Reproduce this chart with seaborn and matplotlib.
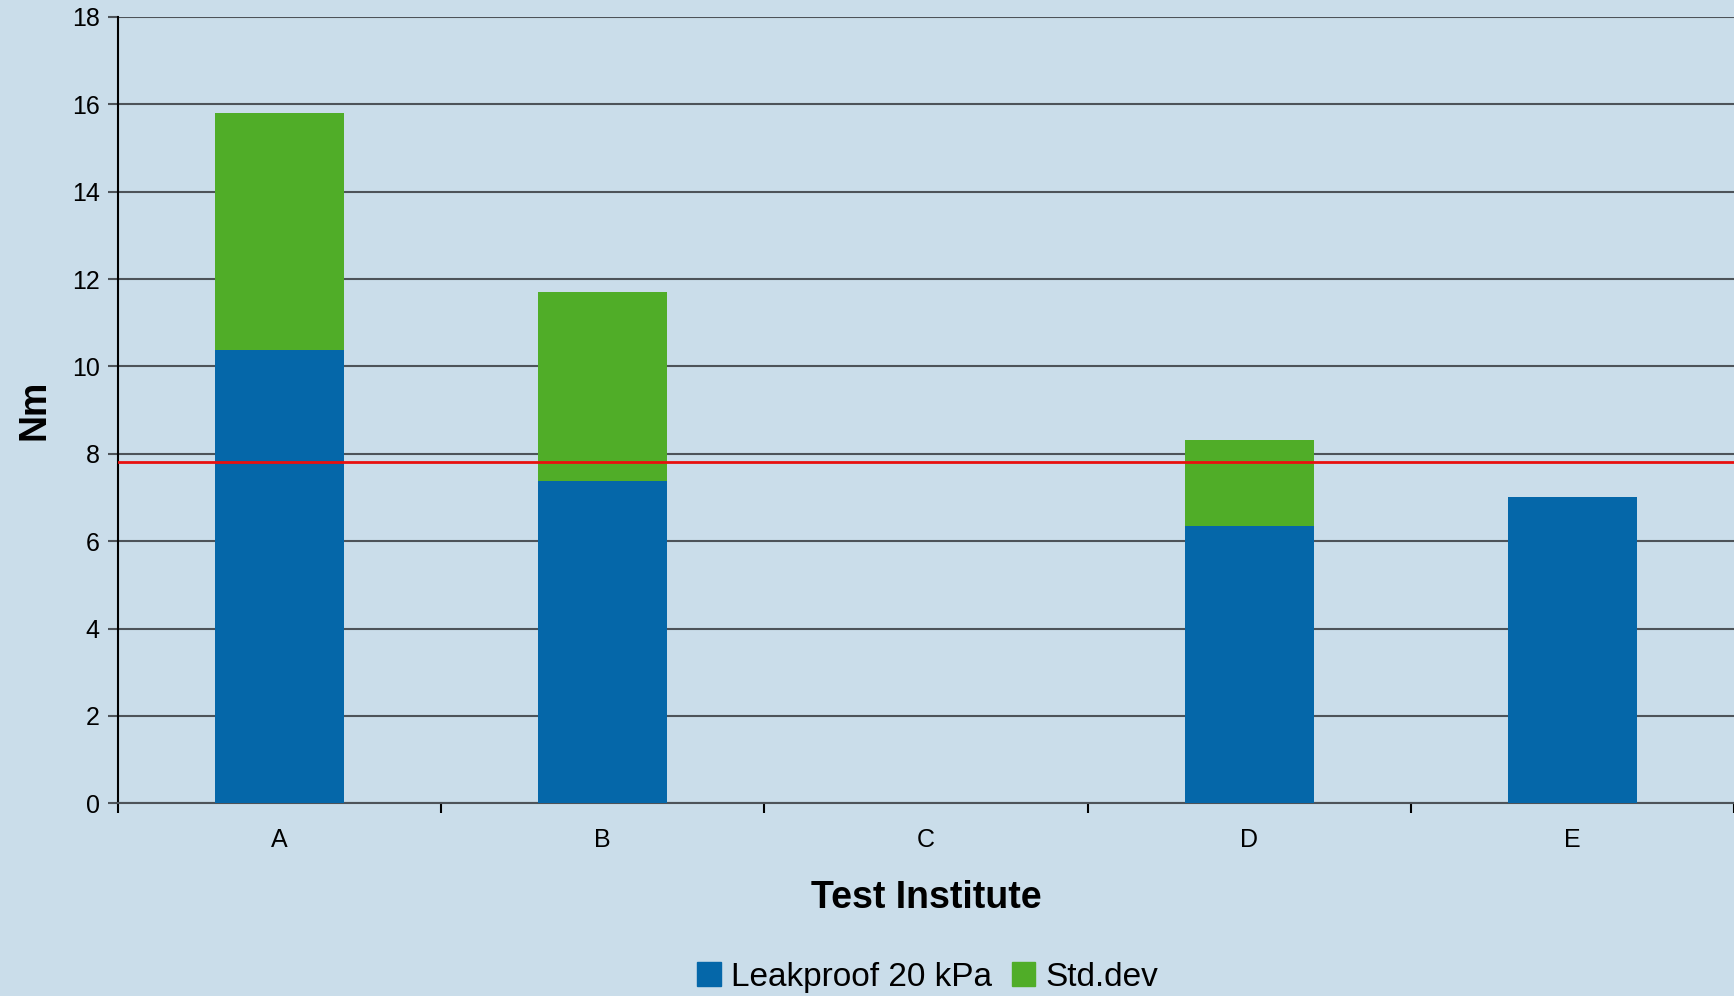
import pandas as pd
import numpy as np
import matplotlib
matplotlib.use("Agg")
import matplotlib.pyplot as plt
import seaborn as sns
from matplotlib.patches import Patch
from matplotlib.ticker import FixedLocator

# --- datos ---
institutos = ["A", "B", "C", "D", "E"]
leakproof = [10.37, 7.38, 0.0, 6.35, 7.01]
std_dev = [5.42, 4.33, 0.0, 1.96, 0.0]
limite = 7.82

AZUL = "#0567A9"
VERDE = "#50AD28"
FONDO = "#CADDEA"

df = pd.DataFrame({"inst": institutos, "leak": leakproof, "std": std_dev})
df["total"] = df["leak"] + df["std"]

sns.set_theme(style="white")
plt.rcParams["font.family"] = ["Liberation Sans", "DejaVu Sans"]
plt.rcParams["text.color"] = "black"
plt.rcParams["axes.labelcolor"] = "black"
plt.rcParams["xtick.color"] = "black"
plt.rcParams["ytick.color"] = "black"

fig = plt.figure(figsize=(17.34, 9.96), dpi=100, facecolor=FONDO)
ax = fig.add_axes([0.068, 0.1935, 0.932, 0.7895])
ax.set_facecolor(FONDO)

# barras apiladas: total (verde) detrás, leakproof (azul) delante
sns.barplot(data=df, x="inst", y="total", color=VERDE, width=0.4,
            saturation=1, linewidth=0, ax=ax, zorder=2)
sns.barplot(data=df, x="inst", y="leak", color=AZUL, width=0.4,
            saturation=1, linewidth=0, ax=ax, zorder=3)

ax.axhline(limite, color="#E8100F", linewidth=2, zorder=4)

ax.set_xlim(-0.5, 4.5)
ax.set_ylim(0, 18)
ax.set_yticks(np.arange(0, 19, 2))
ax.yaxis.grid(True, color="#4D5359", linewidth=1.5, zorder=1)
ax.set_axisbelow(True)

for s in ["top", "right"]:
    ax.spines[s].set_visible(False)
ax.spines["left"].set_color("black")
ax.spines["left"].set_linewidth(1.5)
ax.spines["bottom"].set_color("#4D5359")
ax.spines["bottom"].set_linewidth(1.5)

ax.tick_params(axis="y", which="major", length=7, width=1.5, color="#4D5359",
               labelcolor="black", labelsize=18, pad=6, left=True)
ax.tick_params(axis="x", which="major", length=0, labelsize=18, pad=18,
               labelcolor="black")
ax.xaxis.set_minor_locator(FixedLocator(np.arange(-0.5, 5, 1.0)))
ax.tick_params(axis="x", which="minor", length=7, width=1.5, color="black",
               bottom=True)

ax.set_xlabel("Test Institute", fontsize=27, fontweight="bold", labelpad=20)
ax.set_ylabel("Nm", fontsize=27, fontweight="bold", labelpad=14)

handles = [Patch(color=AZUL, label="Leakproof 20 kPa"),
           Patch(color=VERDE, label="Std.dev")]
fig.legend(handles=handles, loc="center", bbox_to_anchor=(0.535, 0.019),
           ncol=2, frameon=False, fontsize=24, handlelength=0.7,
           handleheight=0.7, handletextpad=0.3, columnspacing=0.6)

fig.savefig("out.png", dpi=100, facecolor=FONDO)
